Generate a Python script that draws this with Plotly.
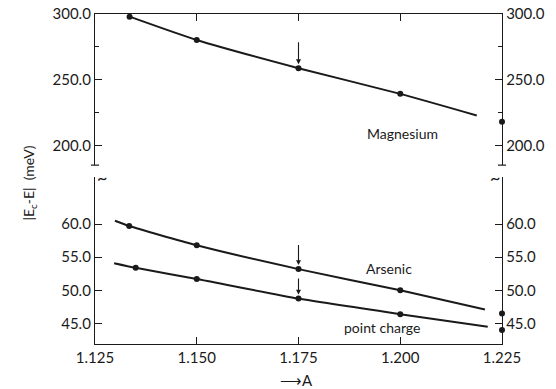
import plotly.graph_objects as go

# ---------------- data ----------------
x_ticks = [1.125, 1.150, 1.175, 1.200, 1.225]
x_ticktext = ["1.125", "1.150", "1.175", "1.200", "1.225"]

upper_ticks = [200, 250, 300]
upper_ticktext = ["200.0", "250.0", "300.0"]
upper_minor = [225, 275]
lower_ticks = [45, 50, 55, 60]
lower_ticktext = ["45.0", "50.0", "55.0", "60.0"]

# Magnesium (upper panel)
mg_pts_x = [1.1335, 1.150, 1.175, 1.200]
mg_pts_y = [298.0, 280.3, 258.9, 239.4]
mg_line_x = [1.1335, 1.150, 1.175, 1.200, 1.2188]
mg_line_y = [298.0, 280.3, 258.9, 239.4, 223.0]
mg_edge_y = [218.2]

# Arsenic (lower panel)
as_pts_x = [1.1334, 1.150, 1.175, 1.200]
as_pts_y = [59.7, 56.8, 53.2, 50.0]
as_line_x = [1.1299, 1.1334, 1.150, 1.175, 1.200, 1.2208]
as_line_y = [60.5, 59.7, 56.8, 53.2, 50.0, 47.1]
as_edge_y = [46.5]

# point charge (lower panel)
pc_pts_x = [1.135, 1.150, 1.175, 1.200]
pc_pts_y = [53.4, 51.7, 48.75, 46.4]
pc_line_x = [1.1297, 1.135, 1.150, 1.175, 1.200, 1.2215]
pc_line_y = [54.1, 53.4, 51.7, 48.75, 46.4, 44.5]
pc_edge_y = [44.0]

edge_x = [1.225]
marked_x = 1.175

upper_range = [185.3, 300]
lower_range = [41.9, 67.1]

# ---------------- figure ----------------
INK = "#1a1a1a"
FONT = "Lato"

fig = go.Figure()

def add_series(lx, ly, px, py, ey, xa, ya, ya_right):
    fig.add_trace(go.Scatter(x=lx, y=ly, xaxis=xa, yaxis=ya, mode="lines",
                             line=dict(color=INK, width=2, shape="spline", smoothing=0.6),
                             hoverinfo="skip", showlegend=False))
    fig.add_trace(go.Scatter(x=px, y=py, xaxis=xa, yaxis=ya, mode="markers",
                             marker=dict(color=INK, size=6), cliponaxis=False,
                             showlegend=False))
    fig.add_trace(go.Scatter(x=edge_x, y=ey, xaxis=xa, yaxis=ya_right, mode="markers",
                             marker=dict(color=INK, size=6), cliponaxis=False,
                             showlegend=False))

add_series(mg_line_x, mg_line_y, mg_pts_x, mg_pts_y, mg_edge_y, "x2", "y2", "y4")
add_series(as_line_x, as_line_y, as_pts_x, as_pts_y, as_edge_y, "x", "y", "y3")
add_series(pc_line_x, pc_line_y, pc_pts_x, pc_pts_y, pc_edge_y, "x", "y", "y3")

tickfont = dict(family=FONT, size=15, color=INK)
common_y = dict(ticks="inside", ticklen=7, tickwidth=1.2, tickcolor=INK,
                showline=True, linecolor=INK, linewidth=1.3, showgrid=False,
                zeroline=False, tickfont=tickfont, automargin=False)

lower_dom = [0, 0.506]
upper_dom = [0.542, 1]

fig.update_layout(
    width=556, height=389,
    margin=dict(l=95, r=54, t=14, b=45, autoexpand=False),
    paper_bgcolor="white", plot_bgcolor="white",
    xaxis=dict(domain=[0, 1], range=[1.125, 1.225], anchor="y",
               tickvals=x_ticks, ticktext=x_ticktext,
               ticks="inside", ticklen=7, tickwidth=1.2, tickcolor=INK,
               showline=True, linecolor=INK, linewidth=1.3, showgrid=False,
               zeroline=False, tickfont=tickfont, automargin=False),
    xaxis2=dict(domain=[0, 1], matches="x", anchor="y2", side="top",
                tickvals=x_ticks, showticklabels=False,
                ticks="inside", ticklen=7, tickwidth=1.2, tickcolor=INK,
                showline=True, linecolor=INK, linewidth=1.3, showgrid=False,
                zeroline=False, automargin=False),
    yaxis=dict(domain=lower_dom, range=lower_range, anchor="x",
               tickvals=lower_ticks, ticktext=lower_ticktext, **common_y),
    yaxis2=dict(domain=upper_dom, range=upper_range, anchor="x2",
                tickvals=upper_ticks, ticktext=upper_ticktext,
                minor=dict(tickvals=upper_minor, ticks="inside", ticklen=4,
                           tickcolor=INK, showgrid=False),
                **common_y),
    yaxis3=dict(overlaying="y", side="right", matches="y", anchor="x",
                tickvals=lower_ticks, ticktext=lower_ticktext, **common_y),
    yaxis4=dict(overlaying="y2", side="right", matches="y2", anchor="x2",
                tickvals=upper_ticks, ticktext=upper_ticktext,
                minor=dict(tickvals=upper_minor, ticks="inside", ticklen=4,
                           tickcolor=INK, showgrid=False),
                **common_y),
)

labfont = dict(family=FONT, size=14, color=INK)

# curve labels
fig.add_annotation(x=1.2006, y=209.6, xref="x2", yref="y2", text="Magnesium",
                   showarrow=False, font=labfont)
fig.add_annotation(x=1.1972, y=53.3, xref="x", yref="y", text="Arsenic",
                   showarrow=False, font=labfont)
fig.add_annotation(x=1.1954, y=44.4, xref="x", yref="y", text="point charge",
                   showarrow=False, font=labfont)

# arrows marking x = 1.175
def marked_value(xs, ys):
    return ys[xs.index(marked_x)]

for xa, ya, xs, ys, alen in [("x2", "y2", mg_pts_x, mg_pts_y, -28),
                              ("x", "y", as_pts_x, as_pts_y, -26),
                              ("x", "y", pc_pts_x, pc_pts_y, -22)]:
    fig.add_annotation(x=marked_x, y=marked_value(xs, ys), xref=xa, yref=ya,
                       ax=0, ay=alen, showarrow=True, arrowhead=2, arrowsize=0.9,
                       arrowwidth=1.1, arrowcolor=INK, standoff=4, text=" ",
                       font=dict(size=1))

# axis titles
fig.add_annotation(x=-0.189, y=0.488, xref="paper", yref="paper",
                   text="|E<sub>c</sub>-E|  (meV)", textangle=-90,
                   showarrow=False, font=labfont)
fig.add_annotation(x=0.496, y=-0.109, xref="paper", yref="paper",
                   yanchor="middle", xanchor="center",
                   text="⟶A", showarrow=False, font=dict(family=FONT, size=15, color=INK))

# axis-break marks
for xp in [0, 1]:
    fig.add_shape(type="line", xref="paper", yref="paper",
                  x0=xp - 0.01, x1=xp + 0.01, y0=upper_dom[0], y1=upper_dom[0],
                  line=dict(color=INK, width=1.2))
    fig.add_annotation(x=xp, y=lower_dom[1], xref="paper", yref="paper",
                       text="~", showarrow=False, yanchor="middle",
                       font=dict(family=FONT, size=18, color=INK))

fig.write_html("out.html")
